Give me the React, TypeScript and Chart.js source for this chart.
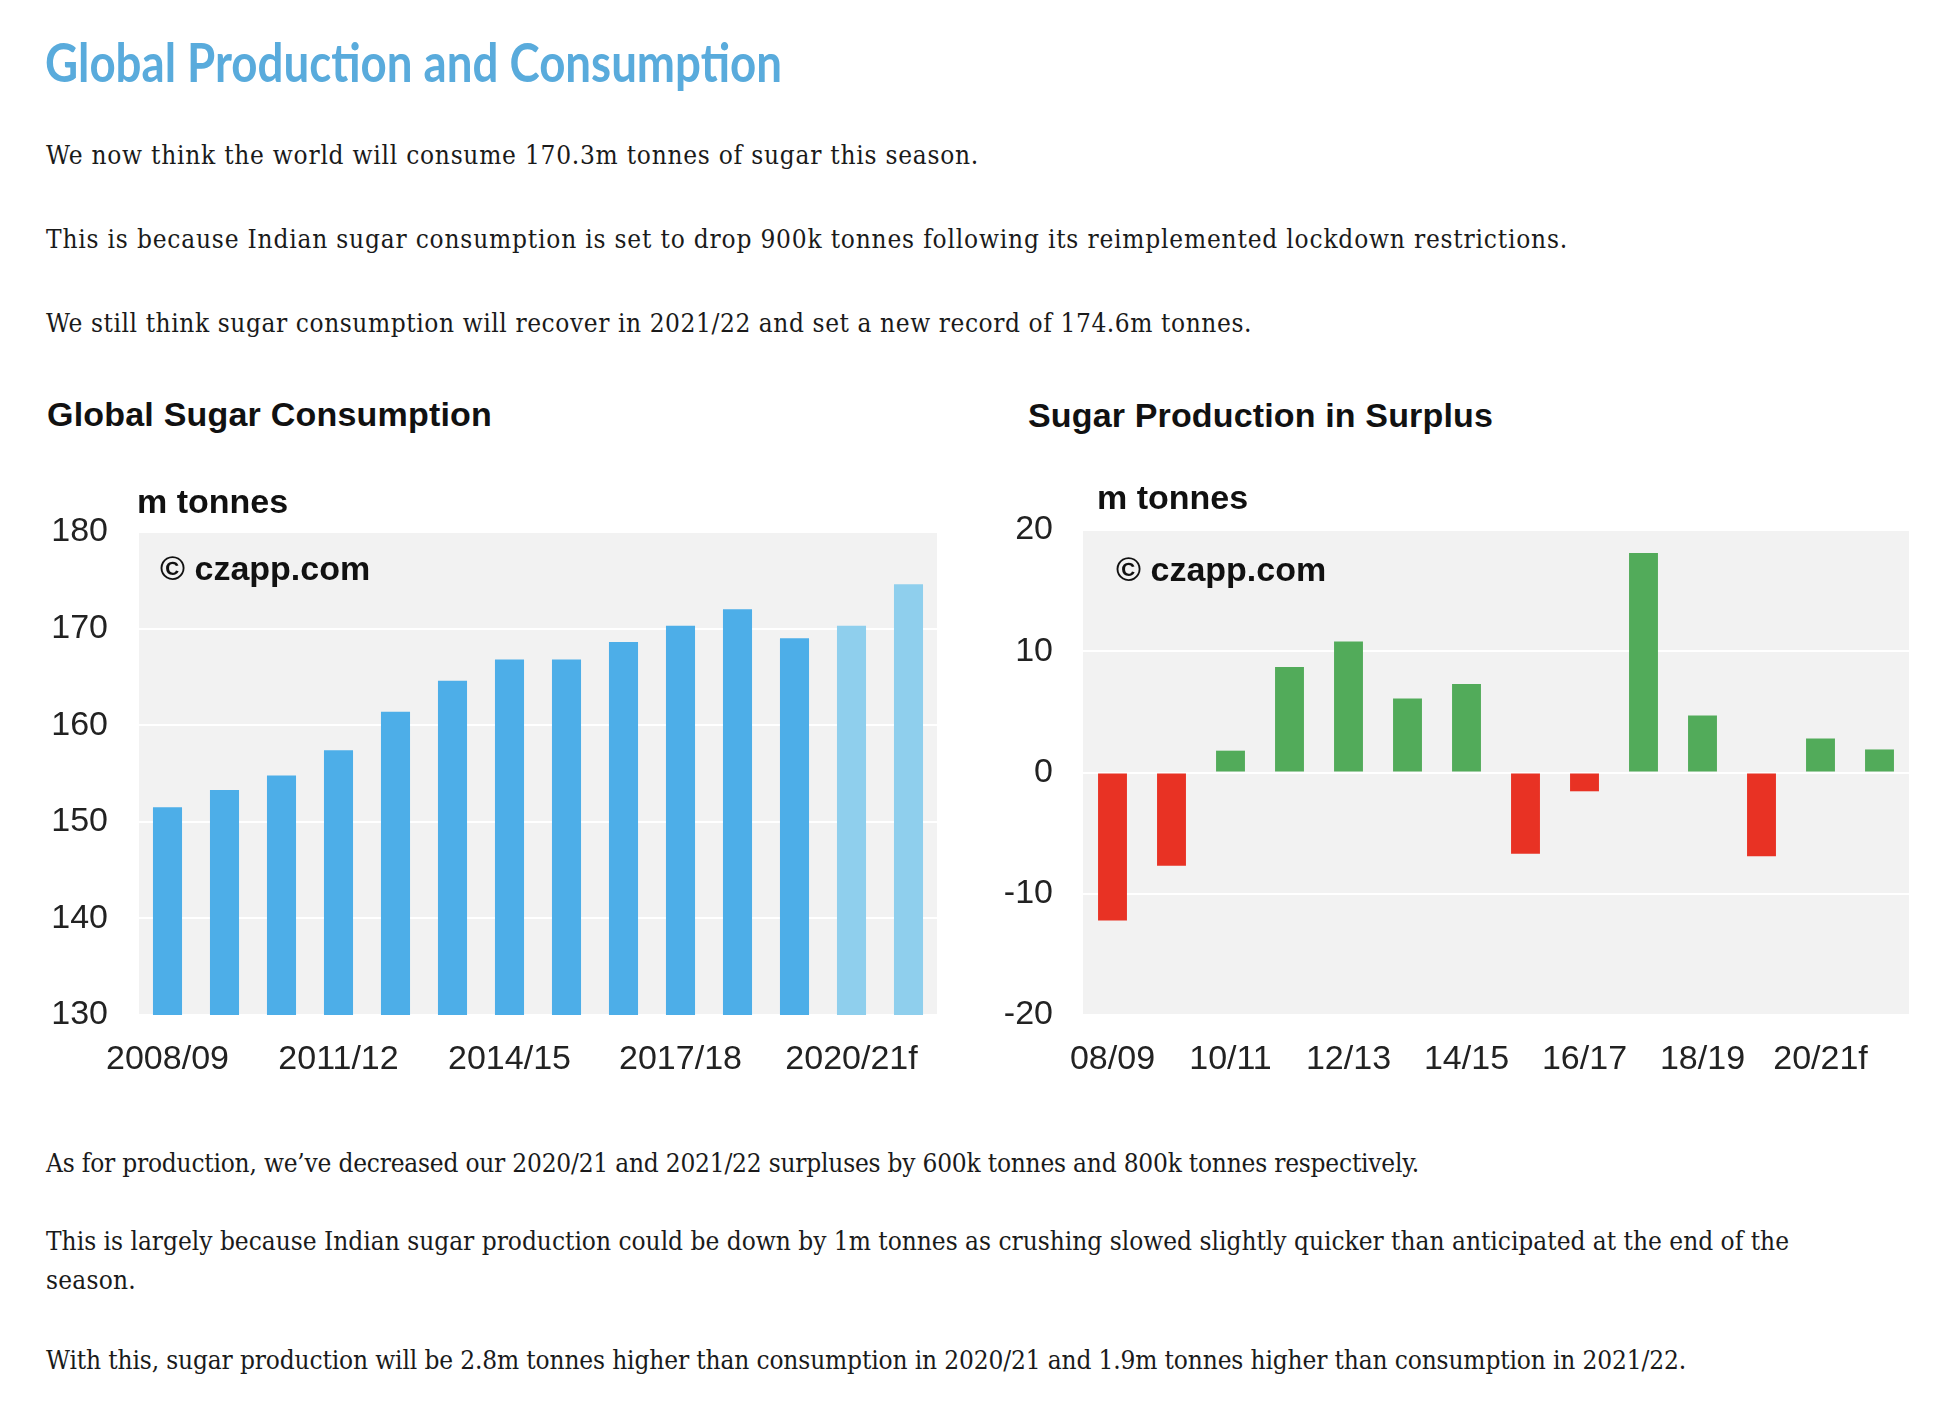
import React, { useEffect, useLayoutEffect, useRef } from "react";
import { Chart, registerables } from "chart.js";

Chart.register(...registerables);

// ---------- data ----------
const consumptionLabels = [
  "2008/09", "2009/10", "2010/11", "2011/12", "2012/13", "2013/14", "2014/15",
  "2015/16", "2016/17", "2017/18", "2018/19", "2019/20", "2020/21f", "2021/22f",
];
const consumptionValues = [
  151.5, 153.3, 154.8, 157.4, 161.4, 164.6, 166.8, 166.8, 168.6, 170.3, 172.0, 169.0, 170.3, 174.6,
];
const consumptionTicks = [130, 140, 150, 160, 170, 180];

const surplusLabels = [
  "08/09", "09/10", "10/11", "11/12", "12/13", "13/14", "14/15",
  "15/16", "16/17", "17/18", "18/19", "19/20", "20/21f", "21/22f",
];
const surplusValues = [
  -12.2, -7.7, 1.8, 8.7, 10.8, 6.1, 7.3, -6.7, -1.55, 18.1, 4.7, -6.9, 2.8, 1.9,
];
const surplusTicks = [-20, -10, 0, 10, 20];

// ---------- styles ----------
const BLUE = "#4daee8";
const LIGHT_BLUE = "#8fcfed";
const GREEN = "#52ab5a";
const RED = "#e83224";
const PANEL = "#f2f2f2";
const TICK_FONT = { family: "'Liberation Sans', Arial, sans-serif", size: 34 };
const BOLD_FONT = "bold 34px 'Liberation Sans', Arial, sans-serif";

const overlayPlugin = (opts: { unitDx: number; unitDy: number; wmDx: number; wmDy: number }) => ({
  id: "overlay",
  beforeDraw(chart: any) {
    const { ctx, chartArea } = chart;
    ctx.save();
    ctx.fillStyle = PANEL;
    ctx.fillRect(chartArea.left, chartArea.top, chartArea.right - chartArea.left, chartArea.bottom - chartArea.top);
    ctx.restore();
  },
  afterDraw(chart: any) {
    const { ctx, chartArea } = chart;
    ctx.save();
    ctx.font = BOLD_FONT;
    ctx.fillStyle = "#111";
    ctx.textBaseline = "middle";
    ctx.textAlign = "left";
    ctx.fillText("m tonnes", chartArea.left + opts.unitDx, chartArea.top + opts.unitDy);
    ctx.fillText("© czapp.com", chartArea.left + opts.wmDx, chartArea.top + opts.wmDy);
    ctx.restore();
  },
});

function ConsumptionChart() {
  const ref = useRef<HTMLCanvasElement>(null);
  useEffect(() => {
    const colors = consumptionLabels.map((l) => (l.endsWith("f") ? LIGHT_BLUE : BLUE));
    const chart = new Chart(ref.current!, {
      type: "bar",
      data: {
        labels: consumptionLabels,
        datasets: [
          {
            data: consumptionValues,
            backgroundColor: colors,
            borderWidth: 0,
            barPercentage: 0.51,
            categoryPercentage: 1,
          },
        ],
      },
      options: {
        animation: false,
        responsive: false,
        maintainAspectRatio: false,
        layout: { padding: { top: 92, right: 23, left: 0, bottom: 0 } },
        plugins: { legend: { display: false }, tooltip: { enabled: false } },
        scales: {
          x: {
            grid: { display: false },
            border: { display: false },
            ticks: {
              autoSkip: false,
              maxRotation: 0,
              padding: 16,
              color: "#222",
              font: TICK_FONT,
              callback: function (this: any, v: any, i: number) {
                return i % 3 === 0 ? consumptionLabels[i] : "";
              },
            },
            afterFit: (s: any) => { s.height = 85; },
          },
          y: {
            min: consumptionTicks[0],
            max: consumptionTicks[consumptionTicks.length - 1],
            afterBuildTicks: (s: any) => { s.ticks = consumptionTicks.map((v) => ({ value: v })); },
            grid: { color: "#ffffff", lineWidth: 2, drawTicks: false },
            border: { display: false },
            ticks: { padding: 31, color: "#222", font: TICK_FONT },
            afterFit: (s: any) => { s.width = 139; },
          },
        },
      },
      plugins: [overlayPlugin({ unitDx: -2, unitDy: -28, wmDx: 21, wmDy: 39 })],
    });
    return () => chart.destroy();
  }, []);
  return <canvas ref={ref} width={960} height={660} style={{ position: "absolute", left: 0, top: 440, width: 960, height: 660 }} />;
}

function SurplusChart() {
  const ref = useRef<HTMLCanvasElement>(null);
  useEffect(() => {
    const colors = surplusValues.map((v) => (v >= 0 ? GREEN : RED));
    const chart = new Chart(ref.current!, {
      type: "bar",
      data: {
        labels: surplusLabels,
        datasets: [
          {
            data: surplusValues,
            backgroundColor: colors,
            borderWidth: 0,
            barPercentage: 0.49,
            categoryPercentage: 1,
          },
        ],
      },
      options: {
        animation: false,
        responsive: false,
        maintainAspectRatio: false,
        layout: { padding: { top: 90, right: 47, left: 0, bottom: 0 } },
        plugins: { legend: { display: false }, tooltip: { enabled: false } },
        scales: {
          x: {
            grid: { display: false },
            border: { display: false },
            ticks: {
              autoSkip: false,
              maxRotation: 0,
              padding: 16,
              color: "#222",
              font: TICK_FONT,
              callback: function (this: any, v: any, i: number) {
                return i % 2 === 0 ? surplusLabels[i] : "";
              },
            },
            afterFit: (s: any) => { s.height = 85; },
          },
          y: {
            min: surplusTicks[0],
            max: surplusTicks[surplusTicks.length - 1],
            afterBuildTicks: (s: any) => { s.ticks = surplusTicks.map((v) => ({ value: v })); },
            grid: { color: "#ffffff", lineWidth: 2, drawTicks: false },
            border: { display: false },
            ticks: { padding: 30, color: "#222", font: TICK_FONT },
            afterFit: (s: any) => { s.width = 123; },
          },
        },
      },
      plugins: [overlayPlugin({ unitDx: 14, unitDy: -30, wmDx: 33, wmDy: 42 })],
    });
    return () => chart.destroy();
  }, []);
  return <canvas ref={ref} width={996} height={660} style={{ position: "absolute", left: 960, top: 440, width: 996, height: 660 }} />;
}

// Text line that is spaced to the width measured in the reference
function FitLine({ target, mode = "spacing", style, children }: { target: number; mode?: "spacing" | "scale"; style?: React.CSSProperties; children: React.ReactNode }) {
  const ref = useRef<HTMLSpanElement>(null);
  useLayoutEffect(() => {
    const el = ref.current!;
    el.style.letterSpacing = "0px";
    el.style.transform = "none";
    const w = el.getBoundingClientRect().width;
    if (mode === "scale") {
      el.style.transform = `scaleX(${target / w})`;
    } else {
      const n = (el.textContent || "").length;
      el.style.letterSpacing = `${(target - w) / n}px`;
    }
  }, [target, mode]);
  return (
    <span ref={ref} style={{ display: "inline-block", whiteSpace: "nowrap", transformOrigin: "0 50%", ...style }}>
      {children}
    </span>
  );
}

const bodyFont: React.CSSProperties = {
  fontFamily: "'DejaVu Serif Condensed', 'DejaVu Serif', serif",
  fontStretch: "condensed",
  fontSize: 26,
  lineHeight: "39px",
  color: "#1a1a1a",
  position: "absolute",
  left: 46,
  whiteSpace: "nowrap",
  margin: 0,
};

function P({ top, target, children }: { top: number; target: number; children: React.ReactNode }) {
  return (
    <div style={{ ...bodyFont, top: top - 19.5 }}>
      <FitLine target={target}>{children}</FitLine>
    </div>
  );
}

export default function App() {
  return (
    <div style={{ position: "absolute", left: 0, top: 0, width: 1956, height: 1422, background: "#fff", overflow: "hidden" }}>
      <div
        style={{
          position: "absolute",
          left: 45,
          top: 62 - 35,
          height: 70,
          lineHeight: "70px",
          fontFamily: "Lato, 'Liberation Sans', sans-serif",
          fontWeight: 700,
          fontSize: 53,
          color: "#59abdc",
          whiteSpace: "nowrap",
        }}
      >
        <FitLine target={737} mode="scale">Global Production and Consumption</FitLine>
      </div>
      <P top={155} target={933}>We now think the world will consume 170.3m tonnes of sugar this season.</P>
      <P top={239} target={1522}>This is because Indian sugar consumption is set to drop 900k tonnes following its reimplemented lockdown restrictions.</P>
      <P top={323} target={1206}>We still think sugar consumption will recover in 2021/22 and set a new record of 174.6m tonnes.</P>

      <div style={{ position: "absolute", left: 47, top: 415 - 20, lineHeight: "40px", font: BOLD_FONT, color: "#111", whiteSpace: "nowrap" }}>
        <FitLine target={445}>Global Sugar Consumption</FitLine>
      </div>
      <div style={{ position: "absolute", left: 1028, top: 416 - 20, lineHeight: "40px", font: BOLD_FONT, color: "#111", whiteSpace: "nowrap" }}>
        <FitLine target={465}>Sugar Production in Surplus</FitLine>
      </div>

      <ConsumptionChart />
      <SurplusChart />

      <P top={1163} target={1373}>As for production, we’ve decreased our 2020/21 and 2021/22 surpluses by 600k tonnes and 800k tonnes respectively.</P>
      <P top={1241} target={1743}>This is largely because Indian sugar production could be down by 1m tonnes as crushing slowed slightly quicker than anticipated at the end of the</P>
      <P top={1280} target={90}>season.</P>
      <P top={1360} target={1640}>With this, sugar production will be 2.8m tonnes higher than consumption in 2020/21 and 1.9m tonnes higher than consumption in 2021/22.</P>
    </div>
  );
}
